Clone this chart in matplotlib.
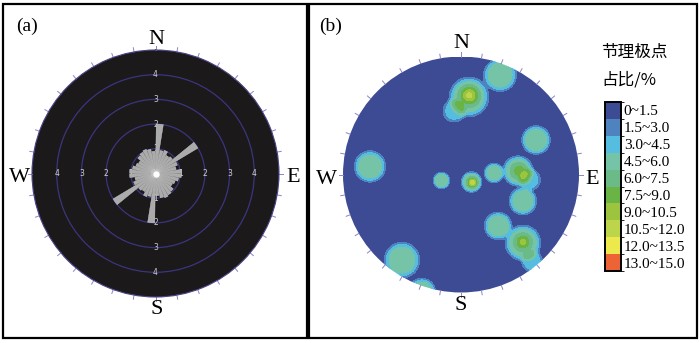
import numpy as np
import matplotlib.pyplot as plt
from matplotlib.patches import Rectangle, Circle
from matplotlib.colors import ListedColormap, BoundaryNorm
import matplotlib.cm as cm

serif = 'Liberation Serif'
cjk = ['Noto Sans CJK SC', 'DejaVu Sans']

# (a) joint strike rose, 10 degree bins from north (0-180, mirrored to 180-360)
rose_start = np.arange(0, 180, 10)
rose_len = [2.0, 0.95, 1.0, 0.85, 0.9, 2.0, 0.95, 0.85, 1.05,
            1.05, 0.95, 0.85, 0.8, 0.95, 1.0, 1.05, 1.0, 0.9]
rings = [1, 2, 3, 4]

# (b) pole density: blob centres in net units (x east, y north), peak, width, shape exponent
blob_x = [0.331, 0.068, -0.059, 0.636, -0.771, -0.165, 0.089, 0.280, 0.483, 0.585,
          0.525, 0.314, 0.525, 0.605, -0.500, -0.331, 0.070, 0.097, 0.492, 0.525]
blob_y = [0.843, 0.657, 0.538, 0.292, 0.068, -0.051, -0.064, 0.013, 0.030, -0.045,
          -0.225, -0.436, -0.580, -0.740, -0.725, -0.996, 0.670, -0.068, 0.030, -0.572]
blob_amp = [5.5, 5.5, 3.5, 5.5, 5.5, 5.5, 5.5, 5.5, 5.5, 3.5,
            5.5, 5.5, 5.5, 3.5, 5.5, 5.5, 5.5, 6.0, 3.0, 4.0]
blob_w = [0.133, 0.160, 0.095, 0.116, 0.127, 0.066, 0.083, 0.078, 0.122, 0.090,
          0.111, 0.111, 0.144, 0.090, 0.144, 0.111, 0.070, 0.036, 0.060, 0.060]
blob_p = [6] * 16 + [2] * 4

levels = [0, 1.5, 3.0, 4.5, 6.0, 7.5, 9.0, 10.5, 12.0, 13.5, 15.0]
level_labels = ['0~1.5', '1.5~3.0', '3.0~4.5', '4.5~6.0', '6.0~7.5', '7.5~9.0',
                '9.0~10.5', '10.5~12.0', '12.0~13.5', '13.0~15.0']
level_colors = ['#3d4a94', '#4f83c0', '#55bde0', '#75c4a8', '#6abb88',
                '#6ab445', '#9cc43e', '#bcd54a', '#ece94c', '#ec6435']

W, H = 700, 343
fig = plt.figure(figsize=(W / 100, H / 100), dpi=100)


def fx(px):
    return px / W


def fy(py):
    return 1 - py / H


# panel frames
for x0, x1 in [(3, 307), (309, 697)]:
    fig.add_artist(Rectangle((fx(x0), fy(338)), fx(x1 - x0), (338 - 4) / H,
                             transform=fig.transFigure, fill=False,
                             edgecolor='black', lw=1.6))

# ---------- (a) rose diagram ----------
cxa, cya, ra = 155.5, 173.5, 123.5
axa = fig.add_axes([fx(cxa - ra), fy(cya + ra), 2 * ra / W, 2 * ra / H], projection='polar')
axa.set_theta_zero_location('N')
axa.set_theta_direction(-1)
axa.set_ylim(0, 5)
axa.set_facecolor('#1b1919')
axa.set_xticks([])
axa.set_yticks(rings)
axa.set_yticklabels([])
axa.yaxis.grid(True, color='#3b3580', lw=0.9)
axa.spines['polar'].set_color('#4a4488')
axa.spines['polar'].set_linewidth(0.8)

starts = np.concatenate([rose_start, rose_start + 180])
lens = np.concatenate([rose_len, rose_len])
axa.bar(np.deg2rad(starts + 5), lens, width=np.deg2rad(8.2), color='#ababab',
        edgecolor='#d0d0d0', linewidth=0.3, zorder=3)
axa.plot([0], [0], 'o', color='white', ms=3.5, zorder=4)

for r in rings:
    for ang in [0, 90, 180, 270]:
        axa.text(np.deg2rad(ang), r, str(r), color='#cfcfcf', fontsize=5.5,
                 ha='center', va='center', zorder=2)

for ang in range(0, 360, 10):
    t = np.deg2rad(ang)
    axa.plot([t, t], [5.0, 5.17], color='#8a84c8', lw=0.7, clip_on=False)

fig.text(fx(156.5), fy(39), 'N', family=serif, fontsize=16, ha='center', va='center')
fig.text(fx(156.5), fy(310), 'S', family=serif, fontsize=16, ha='center', va='center')
fig.text(fx(19.5), fy(178), 'W', family=serif, fontsize=16, ha='center', va='center')
fig.text(fx(293.5), fy(178), 'E', family=serif, fontsize=16, ha='center', va='center')
fig.text(fx(27), fy(26), '(a)', family=serif, fontsize=14, ha='center', va='center')

# ---------- (b) pole density contour ----------
cxb, cyb, rb = 461, 174.5, 118
axb = fig.add_axes([fx(cxb - rb), fy(cyb + rb), 2 * rb / W, 2 * rb / H])
axb.set_xlim(-1, 1)
axb.set_ylim(-1, 1)
axb.axis('off')

g = np.linspace(-1, 1, 600)
X, Y = np.meshgrid(g, g)
Z = np.zeros_like(X)
for bx, by, ba, bw, bp in zip(blob_x, blob_y, blob_amp, blob_w, blob_p):
    d = np.hypot(X - bx, Y - by)
    Z += ba * np.exp(-(d / bw) ** bp)
Z = np.clip(Z, 0, 14.9)

clip = Circle((0, 0), 1, transform=axb.transData)
cs = axb.contourf(X, Y, Z, levels=levels, colors=level_colors)
cs.set_clip_path(clip)

for ang in range(0, 360, 10):
    t = np.deg2rad(ang)
    axb.plot([np.sin(t), 1.035 * np.sin(t)], [np.cos(t), 1.035 * np.cos(t)],
             color='#8a84c8', lw=0.7, clip_on=False)

fig.text(fx(461), fy(43), 'N', family=serif, fontsize=16, ha='center', va='center')
fig.text(fx(461), fy(306), 'S', family=serif, fontsize=16, ha='center', va='center')
fig.text(fx(326), fy(179), 'W', family=serif, fontsize=16, ha='center', va='center')
fig.text(fx(592), fy(180), 'E', family=serif, fontsize=16, ha='center', va='center')
fig.text(fx(331), fy(26), '(b)', family=serif, fontsize=14, ha='center', va='center')

# ---------- legend ----------
fig.text(fx(601), fy(52), '节理极点', family=cjk, fontsize=12, ha='left', va='center')
fig.text(fx(601), fy(80), '占比/%', family=cjk, fontsize=12, ha='left', va='center')

cax = fig.add_axes([fx(605), fy(271), 16 / W, 169 / H])
cmap = ListedColormap(level_colors)
norm = BoundaryNorm(levels, cmap.N)
cb = fig.colorbar(cm.ScalarMappable(norm=norm, cmap=cmap), cax=cax, drawedges=True)
cb.outline.set_linewidth(1.4)
cb.dividers.set_linewidth(1.0)
cb.dividers.set_color('black')
cax.invert_yaxis()
mids = [(a + b) / 2 for a, b in zip(levels[:-1], levels[1:])]
cb.set_ticks(mids)
cb.set_ticklabels(level_labels)
cax.tick_params(length=0, pad=2)
for lab in cax.get_yticklabels():
    lab.set_family(serif)
    lab.set_fontsize(11)

fig.savefig('out.png', dpi=100)
